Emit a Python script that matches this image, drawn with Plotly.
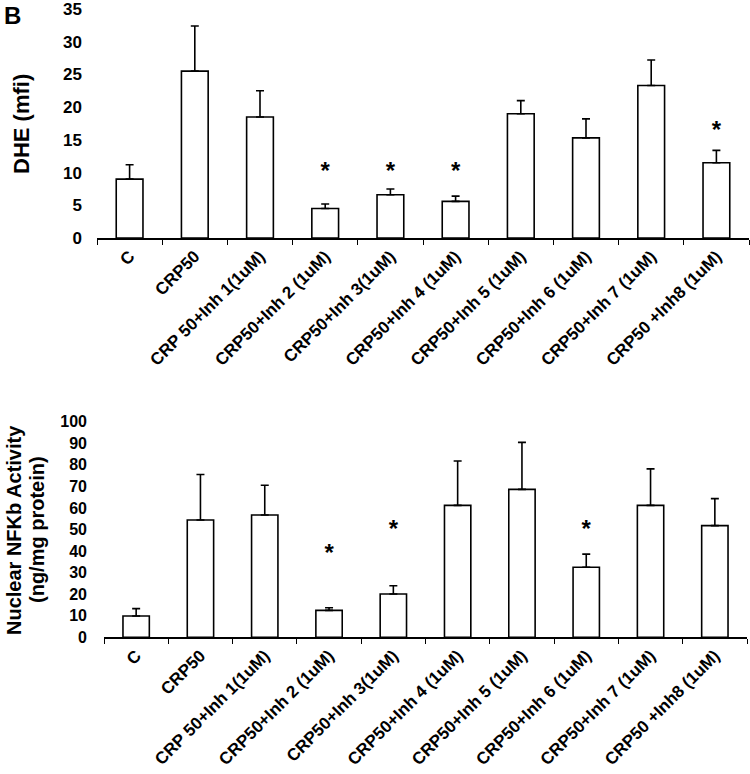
import plotly.graph_objects as go

W, H = 750, 774

categories = ["C", "CRP50", "CRP 50+Inh 1(1uM)", "CRP50+Inh 2 (1uM)", "CRP50+Inh 3(1uM)",
              "CRP50+Inh 4 (1uM)", "CRP50+Inh 5 (1uM)", "CRP50+Inh 6 (1uM)",
              "CRP50+Inh 7 (1uM)", "CRP50 +Inh8 (1uM)"]

dhe_mean = [9.0, 25.5, 18.5, 4.5, 6.6, 5.6, 19.0, 15.3, 23.3, 11.5]
dhe_err = [2.2, 6.9, 4.0, 0.7, 0.9, 0.8, 2.0, 2.9, 3.9, 1.9]
dhe_star_cats = ["CRP50+Inh 2 (1uM)", "CRP50+Inh 3(1uM)", "CRP50+Inh 4 (1uM)", "CRP50 +Inh8 (1uM)"]
dhe_star_y = [10.0, 10.0, 10.0, 16.2]

nfkb_mean = [9.9, 54.4, 56.7, 12.5, 20.1, 61.2, 68.6, 32.5, 61.2, 51.8]
nfkb_err = [3.4, 21.1, 13.8, 1.2, 3.8, 20.6, 21.8, 6.1, 16.9, 12.5]
nfkb_star_cats = ["CRP50+Inh 2 (1uM)", "CRP50+Inh 3(1uM)", "CRP50+Inh 6 (1uM)"]
nfkb_star_y = [38.0, 49.5, 49.5]

FONT = "Arial, Liberation Sans, sans-serif"


def px_x(p):
    return p / W


def px_y(p):
    return 1 - p / H


fig = go.Figure()

bar_style = dict(marker=dict(color="white", line=dict(color="black", width=1.6)), width=0.41,
                 showlegend=False, hoverinfo="skip")

fig.add_trace(go.Bar(x=categories, y=dhe_mean, xaxis="x", yaxis="y",
                     error_y=dict(type="data", symmetric=False, array=dhe_err,
                                  arrayminus=[0] * len(dhe_err), color="black",
                                  thickness=1.6, width=4), **bar_style))
fig.add_trace(go.Bar(x=categories, y=nfkb_mean, xaxis="x2", yaxis="y2",
                     error_y=dict(type="data", symmetric=False, array=nfkb_err,
                                  arrayminus=[0] * len(nfkb_err), color="black",
                                  thickness=1.6, width=4), **bar_style))

star_font = dict(family=FONT, size=24, color="black", weight="bold")
fig.add_trace(go.Scatter(x=dhe_star_cats, y=dhe_star_y, mode="text", text=["*"] * len(dhe_star_y),
                         textposition="middle center", textfont=star_font,
                         xaxis="x", yaxis="y", showlegend=False, hoverinfo="skip"))
fig.add_trace(go.Scatter(x=nfkb_star_cats, y=nfkb_star_y, mode="text", text=["*"] * len(nfkb_star_y),
                         textposition="middle center", textfont=star_font,
                         xaxis="x2", yaxis="y2", showlegend=False, hoverinfo="skip"))

xcommon = dict(type="category", showline=True, linecolor="black", linewidth=1.5,
               ticks="outside", tickson="boundaries", ticklen=5, tickcolor="black", tickwidth=1.2,
               tickangle=-45, showgrid=False, zeroline=False, automargin=False,
               ticklabeloverflow="allow",
               tickfont=dict(family=FONT, size=17, color="black", weight="bold"),
               categoryorder="array", categoryarray=categories)
ycommon = dict(showline=False, showgrid=False, zeroline=False, ticks="", automargin=False,
               ticklabeloverflow="allow")

title_font = dict(family=FONT, size=20, color="black", weight="bold")

fig.update_layout(
    width=W, height=H,
    margin=dict(l=0, r=0, t=0, b=0, autoexpand=False),
    paper_bgcolor="white", plot_bgcolor="white",
    showlegend=False,
    xaxis=dict(domain=[px_x(97), px_x(749)], anchor="y", **xcommon),
    yaxis=dict(domain=[px_y(238), px_y(9)], anchor="x", range=[0, 35], dtick=5,
               ticklabelstandoff=14,
               tickfont=dict(family=FONT, size=17, color="black", weight="bold"), **ycommon),
    xaxis2=dict(domain=[px_x(104), px_x(747)], anchor="y2", **xcommon),
    yaxis2=dict(domain=[px_y(637.3), px_y(421.7)], anchor="x2", range=[0, 100], dtick=10,
                ticklabelstandoff=16,
                tickfont=dict(family=FONT, size=16, color="black", weight="bold"), **ycommon),
    annotations=[
        dict(text="B", x=px_x(2), y=px_y(0), xref="paper", yref="paper", showarrow=False,
             xanchor="left", yanchor="top",
             font=dict(family=FONT, size=24, color="black", weight="bold")),
        dict(text="DHE (mfi)", x=px_x(22), y=px_y(124), xref="paper", yref="paper",
             showarrow=False, textangle=-90, xanchor="center", yanchor="middle",
             font=dict(family=FONT, size=22, color="black", weight="bold")),
        dict(text="Nuclear NFKb Activity", x=px_x(14), y=px_y(530),
             xref="paper", yref="paper", showarrow=False, textangle=-90,
             xanchor="center", yanchor="middle", font=title_font),
        dict(text="(ng/mg protein)", x=px_x(37), y=px_y(530),
             xref="paper", yref="paper", showarrow=False, textangle=-90,
             xanchor="center", yanchor="middle", font=title_font),
    ],
)

# remove the page's default 8px body margin so the figure sits at the window's corner
fig.write_html("out.html", config={"displayModeBar": False},
               post_script="document.body.style.margin='0px';")
